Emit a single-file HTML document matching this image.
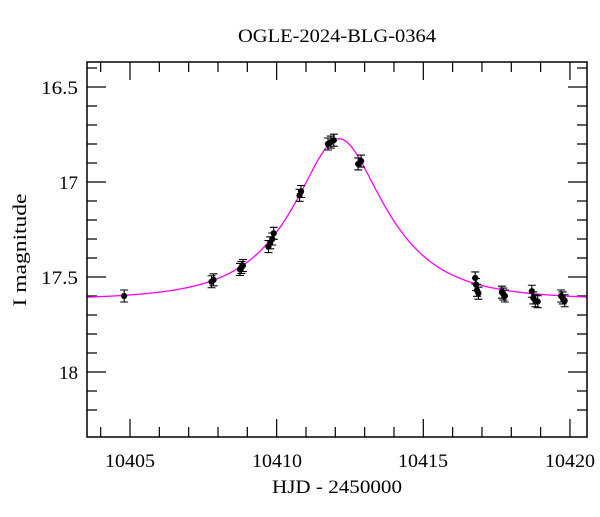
<!DOCTYPE html>
<html><head><meta charset="utf-8"><style>
body{margin:0;background:#fff}
text{font-family:"Liberation Serif",serif;fill:#000}
</style></head><body>
<svg id="s" width="600" height="512" xmlns="http://www.w3.org/2000/svg">
<rect width="600" height="512" fill="#fff"/>
<text x="337" y="42" font-size="19" text-anchor="middle" textLength="198" lengthAdjust="spacingAndGlyphs">OGLE-2024-BLG-0364</text>
<text x="337" y="493" font-size="19" text-anchor="middle" textLength="130" lengthAdjust="spacingAndGlyphs">HJD - 2450000</text>
<text transform="translate(26,250) rotate(-90)" font-size="19" text-anchor="middle" textLength="113" lengthAdjust="spacingAndGlyphs">I magnitude</text>
<g id="ticks" stroke="#000" stroke-width="1.2"></g>
<path id="curve" fill="none" stroke="#ff00ff" stroke-width="1.3"/>
<g id="pts"></g>
<rect x="87" y="62" width="500" height="375" fill="none" stroke="#000" stroke-width="1.5"/>
<g font-size="19">
<text x="130" y="467" text-anchor="middle" textLength="50" lengthAdjust="spacingAndGlyphs">10405</text>
<text x="277" y="467" text-anchor="middle" textLength="50" lengthAdjust="spacingAndGlyphs">10410</text>
<text x="423" y="467" text-anchor="middle" textLength="50" lengthAdjust="spacingAndGlyphs">10415</text>
<text x="570" y="467" text-anchor="middle" textLength="50" lengthAdjust="spacingAndGlyphs">10420</text>
<text x="78" y="94" text-anchor="end" textLength="37" lengthAdjust="spacingAndGlyphs">16.5</text>
<text x="78" y="189" text-anchor="end" textLength="19" lengthAdjust="spacingAndGlyphs">17</text>
<text x="78" y="284" text-anchor="end" textLength="37" lengthAdjust="spacingAndGlyphs">17.5</text>
<text x="78" y="379" text-anchor="end" textLength="19" lengthAdjust="spacingAndGlyphs">18</text>
</g>
</svg>
<script>
var NS="http://www.w3.org/2000/svg";
function X(t){return 130+(t-10405)*29.33;}
function Y(m){return 87+(m-16.5)*190;}
var tk="";
for(var t=10404;t<=10420;t++){var x=X(t),L=(t%5==0)?18:10;
tk+="M"+x+" 437V"+(437-L)+"M"+x+" 62V"+(62+L);}
for(var i=0;i<=18;i++){var m=16.4+i*0.1;var y=Y(m);if(y<62||y>437)continue;
var L=(Math.round(m*10)%5==0)?19:10;tk+="M87 "+y+"H"+(87+L)+"M587 "+y+"H"+(587-L);}
var p=document.createElementNS(NS,"path");p.setAttribute("d",tk);p.setAttribute("stroke","#000");p.setAttribute("stroke-width","1.2");
document.getElementById("ticks").appendChild(p);
var t0=10412.13,u0=0.5,tE=2.68,base=17.62;
function mag(t){var x=(t-t0)/tE,u=Math.sqrt(u0*u0+x*x);var A=(u*u+2)/(u*Math.sqrt(u*u+4));return base-2.5*Math.log10(A);}
var d="";for(var t=10403.53;t<=10420.58;t+=0.02){d+=(d?"L":"M")+X(t).toFixed(2)+" "+Y(mag(t)).toFixed(2);}
document.getElementById("curve").setAttribute("d",d);
var data=[[10404.8,17.60],[10407.78,17.525],[10407.85,17.515],[10408.75,17.46],[10408.8,17.45],[10408.85,17.44],
[10409.72,17.34],[10409.78,17.32],[10409.85,17.30],[10409.9,17.27],[10410.78,17.07],[10410.83,17.05],
[10411.75,16.80],[10411.85,16.79],[10411.95,16.78],[10412.78,16.905],[10412.88,16.89],
[10416.77,17.505],[10416.8,17.54],[10416.83,17.57],[10416.88,17.585],
[10417.68,17.58],[10417.73,17.59],[10417.78,17.60],
[10418.7,17.575],[10418.75,17.61],[10418.82,17.625],[10418.9,17.63],
[10419.7,17.60],[10419.75,17.61],[10419.82,17.625]];
var g="";data.forEach(function(a){var x=X(a[0]),y=Y(a[1]);
g+='<path d="M'+x+' '+(y-6)+'V'+(y+6)+'M'+(x-4)+' '+(y-6)+'H'+(x+4)+'M'+(x-4)+' '+(y+6)+'H'+(x+4)+'" stroke="#000" stroke-width="1.1"/>';
g+='<circle cx="'+x+'" cy="'+y+'" r="3.1" fill="#000"/>';});
document.getElementById("pts").innerHTML=g;
</script>
</body></html>
